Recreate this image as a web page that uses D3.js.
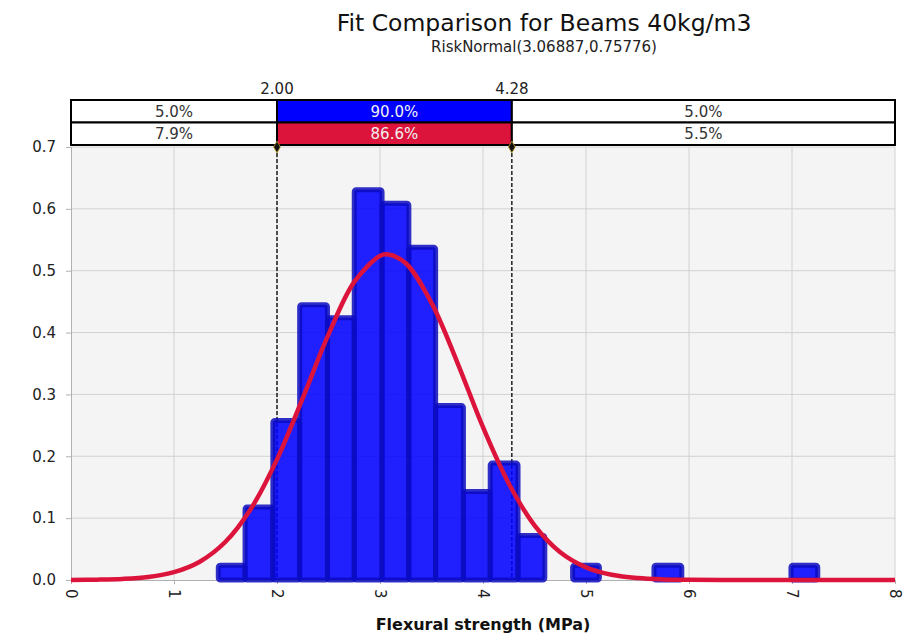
<!DOCTYPE html>
<html>
<head>
<meta charset="utf-8">
<script src="https://d3js.org/d3.v7.min.js"></script>
<style>
  body { margin: 0; background: #fff; }
  text { font-family: "DejaVu Sans", Verdana, sans-serif; }
</style>
</head>
<body>
<svg id="chart" width="922" height="642"></svg>
<script>
/////
//
// Data
//
/////

// histogram bin edges (MPa) and the density of each bin
var binEdges = [1.43, 1.69, 1.96, 2.22, 2.49, 2.75, 3.02, 3.28, 3.54, 3.81, 4.07,
                4.34, 4.60, 4.87, 5.13, 5.40, 5.66, 5.93, 6.19, 6.46, 6.72, 6.99, 7.25];
var binDensity = [0.024, 0.118, 0.258, 0.445, 0.424, 0.631, 0.609, 0.538, 0.282, 0.143, 0.189,
                  0.072, 0, 0.024, 0, 0, 0.024, 0, 0, 0, 0, 0.024];

// fitted curve RiskNormal(3.06887,0.75776)
var curveX = [0, 0.25, 0.5, 0.75, 1, 1.25, 1.5, 1.75, 2, 2.25, 2.5, 2.75, 3, 3.07, 3.25, 3.5,
              3.75, 4, 4.25, 4.5, 4.75, 5, 5.25, 5.5, 5.75, 6, 6.5, 7, 7.5, 8];
var curveY = [0, 0.0005, 0.0017, 0.0049, 0.0127, 0.0296, 0.0618, 0.116, 0.195, 0.294, 0.397,
              0.482, 0.524, 0.5265, 0.512, 0.448, 0.352, 0.247, 0.156, 0.0884, 0.0449, 0.0205,
              0.0084, 0.0031, 0.0010, 0.0003, 0, 0, 0, 0];

// the 90% band on top
var markers = [2.00, 4.28];
var bandInput = ["5.0%", "90.0%", "5.0%"];
var bandFit = ["7.9%", "86.6%", "5.5%"];

var xTicks = [0, 1, 2, 3, 4, 5, 6, 7, 8];
var yTicks = [0, 0.1, 0.2, 0.3, 0.4, 0.5, 0.6, 0.7];

var title = "Fit Comparison for Beams 40kg/m3",
    subtitle = "RiskNormal(3.06887,0.75776)",
    xLabel = "Flexural strength (MPa)";

/////
//
// Drawing
//
/////

var svg = d3.select("#chart"),
    plot = {left: 71, right: 895, top: 147, bottom: 580};

var x = d3.scaleLinear().domain([0, 8]).range([plot.left, plot.right]),
    y = d3.scaleLinear().domain([0, 0.7]).range([plot.bottom, plot.top]);

// titles
svg.append("text")
    .attr("x", 544).attr("y", 31)
    .attr("text-anchor", "middle")
    .attr("font-size", "23.5px")
    .attr("fill", "#111")
    .text(title);

svg.append("text")
    .attr("x", 544).attr("y", 52)
    .attr("text-anchor", "middle")
    .attr("font-size", "15px")
    .attr("fill", "#222")
    .text(subtitle);

// plot background
svg.append("rect")
    .attr("x", plot.left).attr("y", plot.top)
    .attr("width", plot.right - plot.left)
    .attr("height", plot.bottom - plot.top)
    .attr("fill", "#f4f4f4");

// grid
svg.append("g")
  .selectAll("line")
  .data(xTicks.slice(1))
  .enter().append("line")
    .attr("x1", function(d) { return x(d); })
    .attr("x2", function(d) { return x(d); })
    .attr("y1", plot.top).attr("y2", plot.bottom)
    .attr("stroke", "#d2d2d2");

svg.append("g")
  .selectAll("line")
  .data(yTicks.slice(1))
  .enter().append("line")
    .attr("x1", plot.left).attr("x2", plot.right)
    .attr("y1", function(d) { return y(d); })
    .attr("y2", function(d) { return y(d); })
    .attr("stroke", "#d2d2d2");

// y axis
var yAxis = svg.append("g")
    .attr("transform", "translate(" + plot.left + ",0)")
    .call(d3.axisLeft(y).tickValues(yTicks).tickFormat(d3.format(".1f"))
          .tickSize(5).tickPadding(10));
yAxis.select(".domain").attr("stroke", "#b0b0b0");
yAxis.selectAll(".tick line").attr("stroke", "#b0b0b0");
yAxis.selectAll("text")
    .attr("font-family", "DejaVu Sans, Verdana, sans-serif")
    .attr("font-size", "15px")
    .attr("fill", "#222");

// x axis
var xAxis = svg.append("g")
    .attr("transform", "translate(0," + plot.bottom + ")")
    .call(d3.axisBottom(x).tickValues(xTicks).tickFormat(d3.format("d"))
          .tickSize(4).tickPadding(6));
xAxis.select(".domain").attr("stroke", "#b0b0b0");
xAxis.selectAll(".tick line").attr("stroke", "#b0b0b0");
xAxis.selectAll("text")
    .attr("font-family", "DejaVu Sans, Verdana, sans-serif")
    .attr("font-size", "15px")
    .attr("fill", "#222")
    .attr("text-anchor", "start")
    .attr("dy", "0.35em")
    .attr("transform", "translate(0,-1) rotate(90)")
    .attr("x", 10).attr("y", 0);

svg.append("text")
    .attr("x", (plot.left + plot.right) / 2).attr("y", 630)
    .attr("text-anchor", "middle")
    .attr("font-size", "16px")
    .attr("font-weight", "bold")
    .attr("fill", "#111")
    .text(xLabel);

// dashed marker lines
svg.append("g")
  .selectAll("line")
  .data(markers)
  .enter().append("line")
    .attr("x1", function(d) { return x(d); })
    .attr("x2", function(d) { return x(d); })
    .attr("y1", plot.top).attr("y2", plot.bottom)
    .attr("stroke", "#111")
    .attr("stroke-width", 1.4)
    .attr("stroke-dasharray", "4,2");

// histogram bars
var bars = binDensity.map(function(d, i) {
    return {lo: binEdges[i], hi: binEdges[i + 1], v: d};
});

svg.append("g")
  .selectAll("rect")
  .data(bars)
  .enter().append("rect")
    .attr("x", function(d) { return x(d.lo); })
    .attr("y", function(d) { return y(d.v); })
    .attr("width", function(d) { return x(d.hi) - x(d.lo); })
    .attr("height", function(d) { return y(0) - y(d.v); })
    .attr("rx", 2)
    .attr("fill", "#0000ff")
    .attr("fill-opacity", 0.87)
    .attr("stroke", "#0c0cc0")
    .attr("stroke-opacity", 0.85)
    .attr("stroke-width", 5);

// fitted curve
var line = d3.line()
    .x(function(d) { return x(d[0]); })
    .y(function(d) { return y(d[1]); })
    .curve(d3.curveCatmullRom);

svg.append("path")
    .datum(curveX.map(function(d, i) { return [d, curveY[i]]; }))
    .attr("d", line)
    .attr("fill", "none")
    .attr("stroke", "#dc143c")
    .attr("stroke-width", 4.5)
    .attr("stroke-linejoin", "round");

// top band: input percentages / fitted percentages
var bandTop = 100, rowH = 22.5,
    cuts = [0].concat(markers).concat([8]);

function drawRow(labels, row, midColor) {
    var g = svg.append("g");
    labels.forEach(function(t, i) {
        var x0 = x(cuts[i]), x1 = x(cuts[i + 1]);
        g.append("rect")
            .attr("x", x0).attr("y", bandTop + row * rowH)
            .attr("width", x1 - x0).attr("height", rowH)
            .attr("fill", i === 1 ? midColor : "#fff")
            .attr("stroke", "#000")
            .attr("stroke-width", 2);
        g.append("text")
            .attr("x", (x0 + x1) / 2)
            .attr("y", bandTop + row * rowH + rowH / 2)
            .attr("dy", "0.36em")
            .attr("text-anchor", "middle")
            .attr("font-size", "15px")
            .attr("fill", i === 1 ? "#f0f0f0" : "#333")
            .text(t);
    });
}
drawRow(bandInput, 0, "#0000ff");
drawRow(bandFit, 1, "#dc143c");

// marker values above the band
svg.append("g")
  .selectAll("text")
  .data(markers)
  .enter().append("text")
    .attr("x", function(d) { return x(d); })
    .attr("y", 94)
    .attr("text-anchor", "middle")
    .attr("font-size", "15px")
    .attr("fill", "#222")
    .text(function(d) { return d3.format(".2f")(d); });

// little diamonds where the dashed lines meet the band
svg.append("g")
  .selectAll("path")
  .data(markers)
  .enter().append("path")
    .attr("d", d3.symbol().type(d3.symbolDiamond).size(40))
    .attr("transform", function(d) { return "translate(" + x(d) + "," + (plot.top) + ")"; })
    .attr("fill", "#111")
    .attr("stroke", "#c9a227")
    .attr("stroke-width", 0.8);
</script>
</body>
</html>
